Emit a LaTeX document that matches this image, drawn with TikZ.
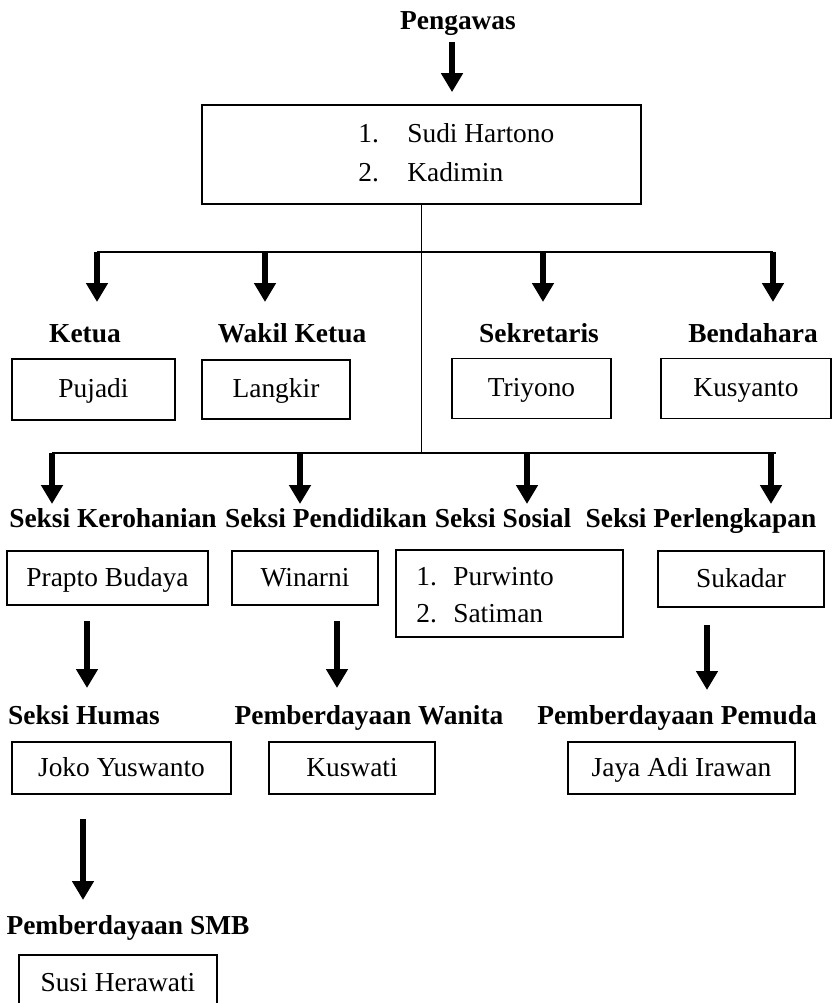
\documentclass[tikz,border=0pt]{standalone}
\usepackage{fontspec}
\setmainfont{Liberation Serif}
\usetikzlibrary{arrows.meta}
\begin{document}
\begin{tikzpicture}[x=0.02cm,y=-0.02cm,
  every node/.style={font=\fontsize{15.6}{18}\selectfont},
  lbl/.style={font=\fontsize{15.6}{18}\selectfont\bfseries, anchor=base, inner sep=0pt},
  txt/.style={anchor=base west, inner sep=0pt},
  box/.style={draw, line width=1pt, inner sep=0pt, text height=11.7pt, text depth=2.3pt},
  conn/.style={line width=1.1pt},
  arr/.style={line width=3pt, -{Triangle[width=0.42cm,length=0.38cm]}}]
\useasboundingbox (0,0) rectangle (832,1003);

% top
\node[lbl] (peng) at (458,30) {Pengawas};
\node[box, minimum width=8.78cm, minimum height=1.98cm] (top) at (421.5,154.5) {};
\node[txt] (t1) at (358,143) {\makebox[0.98cm][l]{1.}Sudi Hartono};
\node[txt] (t2) at (358,182) {\makebox[0.98cm][l]{2.}Kadimin};
\coordinate (pa) at (452,42);
\draw[arr] (pa) -- (pa |- top.north) [shorten >=0.24cm];

% junctions and buses
\coordinate (j2) at (421.5,453);
\coordinate (b1) at (97,252);
\coordinate (b2) at (265,252);
\coordinate (b3) at (543,252);
\coordinate (b4) at (773,252);
\coordinate (r1) at (0,302);
\coordinate (c1) at (52,453);
\coordinate (c2) at (300,453);
\coordinate (c3) at (527,453);
\coordinate (c4) at (771,453);
\coordinate (c5) at (776,453);
\coordinate (r2) at (0,504);
\draw[conn] (top.south) -- (j2);
\draw[conn] (b1) -- (b4);
\draw[conn] (c1) -- (c5);
\foreach \p in {b1,b2,b3,b4} \draw[arr] (\p) -- (\p |- r1);
\foreach \p in {c1,c2,c3,c4} \draw[arr] (\p) -- (\p |- r2);

% row 1
\node[lbl] (ketua) at (85,342) {Ketua};
\node[lbl] (wakil) at (292,342) {Wakil Ketua};
\node[lbl] (sekr) at (539,342) {Sekretaris};
\node[lbl] (bend) at (753,342) {Bendahara};
\node[box, minimum width=3.26cm, minimum height=1.22cm] (pujadi) at (93.5,389.5) {Pujadi};
\node[box, minimum width=2.96cm, minimum height=1.18cm] (langkir) at (276,389.5) {Langkir};
\node[box, minimum width=3.18cm, minimum height=1.2cm] (triyono) at (531.5,388.5) {Triyono};
\node[box, minimum width=3.4cm, minimum height=1.2cm] (kusyanto) at (746,388.5) {Kusyanto};

% row 2
\node[lbl] (kero) at (113,527) {Seksi Kerohanian};
\node[lbl] (pend) at (326,527) {Seksi Pendidikan};
\node[lbl] (sos) at (503,527) {Seksi Sosial};
\node[lbl] (perl) at (701,527) {Seksi Perlengkapan};
\node[box, minimum width=4.02cm, minimum height=1.08cm] (prapto) at (107.5,578) {Prapto Budaya};
\node[box, minimum width=2.92cm, minimum height=1.08cm] (winarni) at (305,578) {Winarni};
\node[box, minimum width=4.54cm, minimum height=1.74cm] (sosbox) at (509.5,593.5) {};
\node[txt] (s1) at (416,585) {\makebox[0.74cm][l]{1.}Purwinto};
\node[txt] (s2) at (416,622) {\makebox[0.74cm][l]{2.}Satiman};
\node[box, minimum width=3.32cm, minimum height=1.12cm] (sukadar) at (741,579) {Sukadar};

% row 3 arrows
\coordinate (d1) at (87,621);
\coordinate (d2) at (337,621);
\coordinate (d3) at (707,625);
\coordinate (e1) at (0,688);
\coordinate (e3) at (0,690);
\draw[arr] (d1) -- (d1 |- e1);
\draw[arr] (d2) -- (d2 |- e1);
\draw[arr] (d3) -- (d3 |- e3);

% row 3
\node[lbl] (humas) at (84,724) {Seksi Humas};
\node[lbl] (wanita) at (369,724) {Pemberdayaan Wanita};
\node[lbl] (pemuda) at (677,724) {Pemberdayaan Pemuda};
\node[box, minimum width=4.38cm, minimum height=1.04cm] (joko) at (121.5,768) {Joko Yuswanto};
\node[box, minimum width=3.32cm, minimum height=1.04cm] (kuswati) at (352,768) {Kuswati};
\node[box, minimum width=4.54cm, minimum height=1.04cm] (jaya) at (681.5,768) {Jaya Adi Irawan};

% row 4
\coordinate (f1) at (83,819);
\coordinate (g1) at (0,900);
\draw[arr] (f1) -- (f1 |- g1);
\node[lbl] (smb) at (128,934) {Pemberdayaan SMB};
\node[box, minimum width=3.96cm, minimum height=1.14cm] (susi) at (118,983.5) {Susi Herawati};
\end{tikzpicture}
\end{document}
